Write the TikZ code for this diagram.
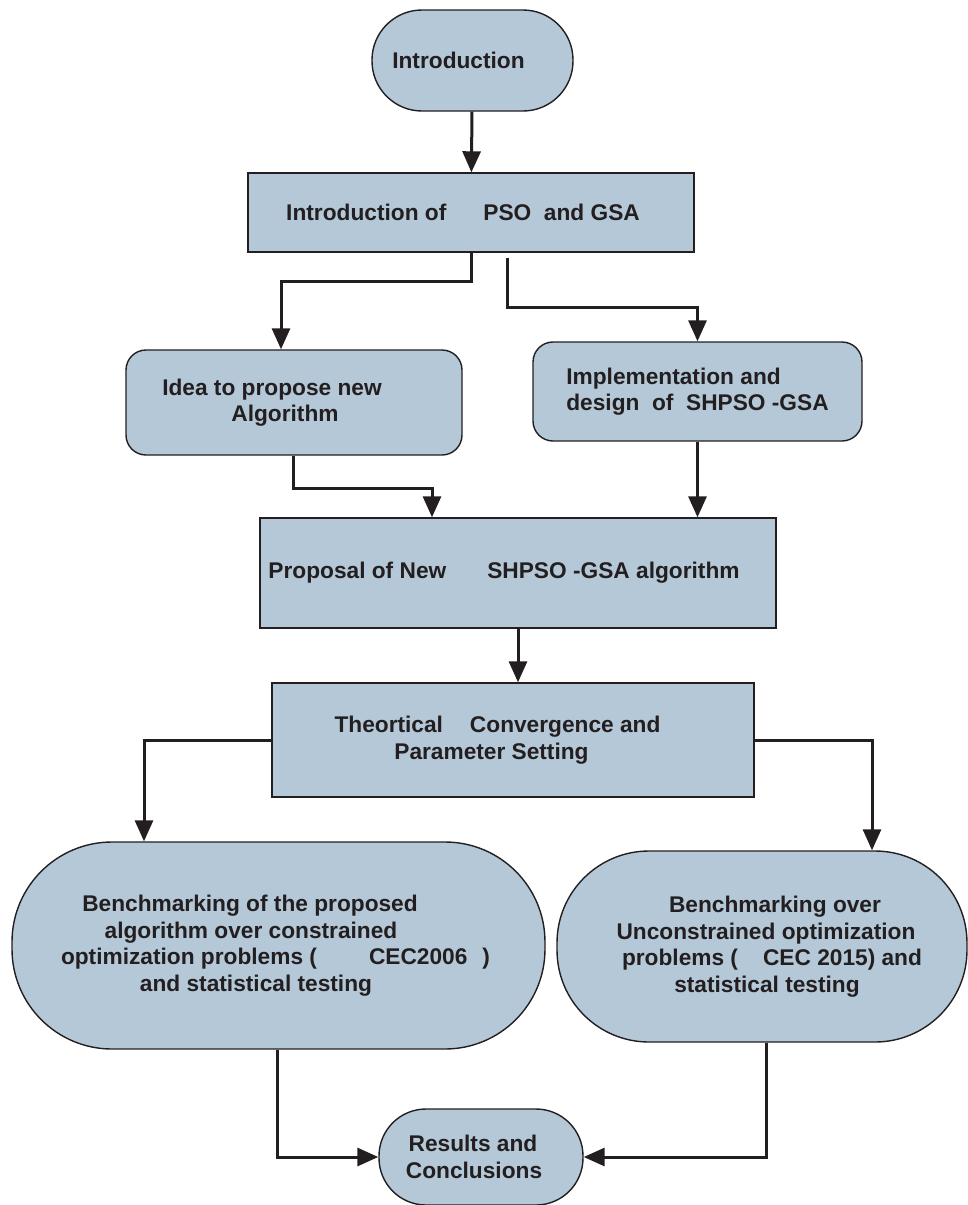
\documentclass[tikz,border=0pt]{standalone}
\usepackage{fontspec}
\setmainfont{Liberation Sans}
\usepackage{xcolor}
\usepackage{tikz}
\usetikzlibrary{arrows.meta, positioning, calc}
\definecolor{FlowFill}{RGB}{181, 200, 216}
\definecolor{FlowLine}{RGB}{35, 31, 32}
% blank space that stays at a line end (moves the centred line)
\newcommand{\gap}[1]{\makebox[#1]{}}

\begin{document}
\begin{tikzpicture}[
  x=1pt, y=-1pt,
  box/.style={draw=FlowLine, fill=FlowFill, line width=1.4pt,
    align=center, text=FlowLine,
    font=\bfseries\fontsize{22.7}{26.5}\selectfont},
  term/.style={box, rounded corners=#1},
  arr/.style={-{Triangle[length=21pt, width=18pt]}, FlowLine, line width=3pt}
]
\useasboundingbox (0,0) rectangle (968,1205);

\node[term=50pt, minimum width=201pt, minimum height=101pt] (intro) at (472.5,60.5)
  {Introduction\gap{28pt}};
\node[box, minimum width=446pt, minimum height=79pt] (pso) at (471,212.5)
  {Introduction of\hspace{37pt}PSO\ \ and GSA\gap{16pt}};
\node[term=20pt, minimum width=336pt, minimum height=105pt] (idea) at (294,402.5)
  {Idea to propose new\gap{44pt}\\Algorithm\gap{18pt}};
\node[term=20pt, minimum width=329pt, minimum height=99pt, align=left] (impl) at (697.5,391.5)
  {Implementation and\\design\ \ of\ \ SHPSO -GSA};
\node[box, minimum width=516pt, minimum height=110pt] (prop) at (518,573)
  {Proposal of New\hspace{41pt}SHPSO -GSA algorithm\gap{28pt}};
\node[box, minimum width=482pt, minimum height=114pt] (theo) at (513,740)
  {Theortical\hspace{27pt}Convergence and\gap{31pt}\\Parameter Setting\gap{43pt}};
\node[term=100pt, minimum width=533pt, minimum height=207pt] (benA) at (278.5,945.5)
  {Benchmarking of the proposed\gap{57pt}\\
   algorithm over constrained\gap{55pt}\\
   optimization problems (\hspace{52pt}CEC2006\hspace{15pt})\gap{6pt}\\
   and statistical testing\gap{45pt}};
\node[term=92pt, minimum width=410pt, minimum height=191pt] (benB) at (762,946.5)
  {\gap{26pt}Benchmarking over\\
   \gap{8pt}Unconstrained optimization\\
   \gap{20pt}problems (\hspace{25pt}CEC 2015) and\\
   \gap{10pt}statistical testing};
\node[term=47pt, minimum width=204pt, minimum height=96pt] (res) at (481,1157)
  {Results and\gap{16pt}\\Conclusions\gap{14pt}};

% connectors
\draw[arr] (intro) -- (pso);
\draw[arr] (pso.south) -- ++(0,29) -| ([xshift=-13pt]idea.north);
\draw[arr] ([xshift=36pt, yshift=-5pt]pso.south) -- ++(0,50) -| (impl.north);
\draw[arr] ([xshift=-1pt]idea.south) -- ++(0,33) -| ([xshift=-86pt]prop.north);
\draw[arr] (impl.south) -- (impl.south |- prop.north);
\draw[arr] (prop.south) -- (prop.south |- theo.north);
\draw[arr] (theo.west) -| ([xshift=-134.5pt]benA.north);
\draw[arr] (theo.east) -| ([xshift=110pt]benB.north);
\draw[arr] ([xshift=-1.5pt]benA.south) |- (res.west);
\draw[arr] ([xshift=4pt]benB.south) |- (res.east);
\end{tikzpicture}
\end{document}
